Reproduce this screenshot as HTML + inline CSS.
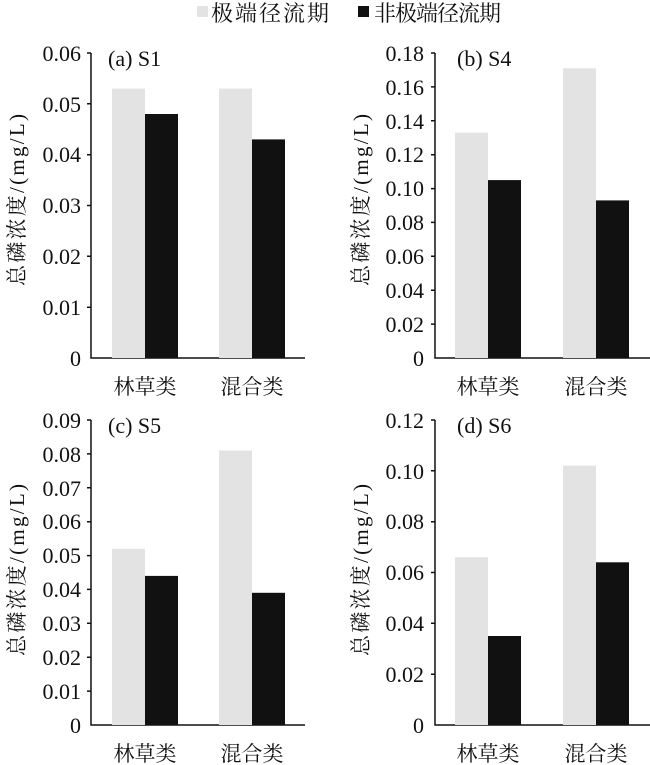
<!DOCTYPE html>
<html><head><meta charset="utf-8"><style>
html,body{margin:0;padding:0;background:#fff;}
svg{display:block;}
.t{font-family:"Liberation Serif","Noto Serif CJK SC",serif;font-size:22px;fill:#111;}
.c{font-family:"Liberation Serif","Noto Serif CJK SC",serif;font-size:21px;fill:#111;}
.l{font-family:"Liberation Serif","Noto Serif CJK SC",serif;font-size:22px;fill:#111;}
</style></head><body>
<svg width="650" height="765" viewBox="0 0 650 765" xmlns="http://www.w3.org/2000/svg">
<rect x="197" y="6" width="11" height="11" fill="#e3e3e3"/>
<text x="211" y="21" class="l" textLength="118">极端径流期</text>
<rect x="358" y="6" width="11" height="11" fill="#111"/>
<text x="374" y="21" class="l" textLength="127">非极端径流期</text>

<g stroke="#111" stroke-width="1.5" fill="none">
<path d="M91 53V358H305"/>
<path d="M87 53H91M87 103.8H91M87 154.7H91M87 205.5H91M87 256.3H91M87 307.2H91"/>
<path d="M435 53V358H650"/>
<path d="M431 53H435M431 86.9H435M431 120.8H435M431 154.7H435M431 188.6H435M431 222.4H435M431 256.3H435M431 290.2H435M431 324.1H435"/>
<path d="M91 420V725H305"/>
<path d="M87 420H91M87 453.9H91M87 487.8H91M87 521.7H91M87 555.6H91M87 589.4H91M87 623.3H91M87 657.2H91M87 691.1H91"/>
<path d="M435 420V725H650"/>
<path d="M431 420H435M431 470.8H435M431 521.7H435M431 572.5H435M431 623.3H435M431 674.2H435"/>
</g>

<rect x="112" y="88.6" width="33" height="269.4" fill="#e3e3e3"/>
<rect x="145" y="114" width="33" height="244" fill="#111"/>
<rect x="219" y="88.6" width="33" height="269.4" fill="#e3e3e3"/>
<rect x="252" y="139.4" width="33" height="218.6" fill="#111"/>
<rect x="455" y="132.6" width="33" height="225.4" fill="#e3e3e3"/>
<rect x="488" y="180.1" width="33" height="177.9" fill="#111"/>
<rect x="563" y="68.3" width="33" height="289.7" fill="#e3e3e3"/>
<rect x="596" y="200.4" width="33" height="157.6" fill="#111"/>
<rect x="112" y="548.8" width="33" height="176.2" fill="#e3e3e3"/>
<rect x="145" y="575.9" width="33" height="149.1" fill="#111"/>
<rect x="219" y="450.5" width="33" height="274.5" fill="#e3e3e3"/>
<rect x="252" y="592.8" width="33" height="132.2" fill="#111"/>
<rect x="455" y="557.2" width="33" height="167.8" fill="#e3e3e3"/>
<rect x="488" y="636" width="33" height="89" fill="#111"/>
<rect x="563" y="465.7" width="33" height="259.3" fill="#e3e3e3"/>
<rect x="596" y="562.3" width="33" height="162.7" fill="#111"/>

<g class="t" text-anchor="end">
<text x="81" y="61">0.06</text><text x="81" y="112">0.05</text><text x="81" y="162">0.04</text>
<text x="81" y="213">0.03</text><text x="81" y="264">0.02</text><text x="81" y="315">0.01</text><text x="81" y="366">0</text>
</g>
<g class="t" text-anchor="end">
<text x="424" y="61">0.18</text><text x="424" y="95">0.16</text><text x="424" y="129">0.14</text>
<text x="424" y="162">0.12</text><text x="424" y="196">0.10</text><text x="424" y="230">0.08</text>
<text x="424" y="264">0.06</text><text x="424" y="298">0.04</text><text x="424" y="332">0.02</text><text x="424" y="366">0</text>
</g>
<g class="t" text-anchor="end">
<text x="81" y="428">0.09</text><text x="81" y="462">0.08</text><text x="81" y="496">0.07</text>
<text x="81" y="529">0.06</text><text x="81" y="563">0.05</text><text x="81" y="597">0.04</text>
<text x="81" y="631">0.03</text><text x="81" y="665">0.02</text><text x="81" y="699">0.01</text><text x="81" y="733">0</text>
</g>
<g class="t" text-anchor="end">
<text x="424" y="428">0.12</text><text x="424" y="479">0.10</text><text x="424" y="529">0.08</text>
<text x="424" y="580">0.06</text><text x="424" y="631">0.04</text><text x="424" y="682">0.02</text><text x="424" y="733">0</text>
</g>

<text x="108" y="66" class="t">(a) S1</text>
<text x="457" y="66" class="t">(b) S4</text>
<text x="108" y="433" class="t">(c) S5</text>
<text x="457" y="433" class="t">(d) S6</text>

<g class="c" text-anchor="middle">
<text x="145" y="394">林草类</text><text x="252" y="394">混合类</text>
<text x="488" y="394">林草类</text><text x="596" y="394">混合类</text>
<text x="145" y="761">林草类</text><text x="252" y="761">混合类</text>
<text x="488" y="761">林草类</text><text x="596" y="761">混合类</text>
</g>

<g class="t" text-anchor="middle" style="font-size:21px">
<text transform="translate(24,200) rotate(-90)" textLength="172">总磷浓度/(mg/L)</text>
<text transform="translate(368,200) rotate(-90)" textLength="172">总磷浓度/(mg/L)</text>
<text transform="translate(24,570) rotate(-90)" textLength="172">总磷浓度/(mg/L)</text>
<text transform="translate(368,570) rotate(-90)" textLength="172">总磷浓度/(mg/L)</text>
</g>
</svg>
</body></html>
